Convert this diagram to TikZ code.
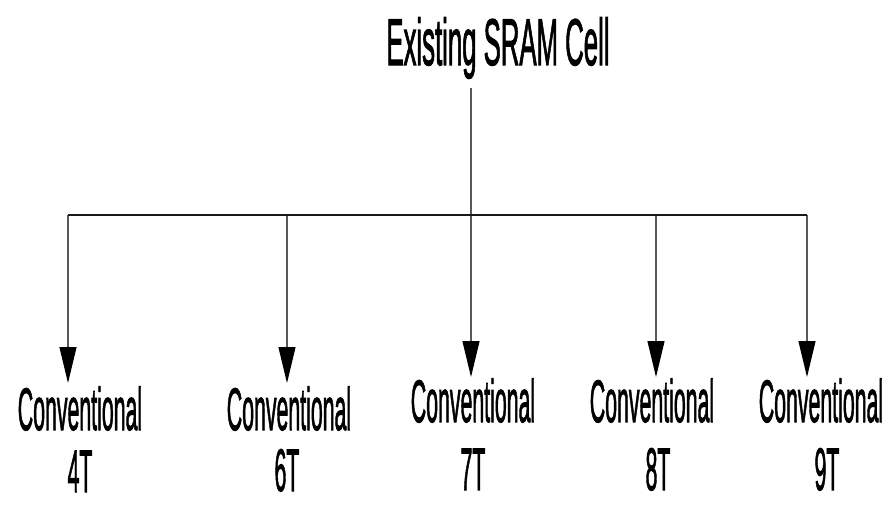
\documentclass[tikz,border=0pt]{standalone}
\usepackage{fontspec}
\setmainfont{Liberation Sans}
\newfontfamily\heavysans[FakeBold=2]{Liberation Sans}
\usetikzlibrary{arrows.meta}
\tikzset{
  lbl/.style={anchor=base, inner sep=0pt, font=\heavysans\fontsize{60}{60}\selectfont},
  ttl/.style={anchor=base, inner sep=0pt, font=\heavysans\fontsize{66}{66}\selectfont},
  bus/.style={line width=2pt, black!90},
  drop/.style={line width=1.1pt, black!65, -{Triangle[width=17pt, length=36pt, black]}},
  stem/.style={line width=1.1pt, black!65}
}
\newcommand{\narrowtext}[2]{\scalebox{#1}[1]{#2}}
\begin{document}
\begin{tikzpicture}[x=1pt, y=-1pt]
  \useasboundingbox (0,0) rectangle (896,504);
  % root label
  \node[ttl] (root) at (498,65) {\narrowtext{0.39}{Existing SRAM Cell}};
  % leaf labels
  \node[lbl] (c4) at (80,430) {\narrowtext{0.355}{Conventional}};
  \node[lbl] (c6) at (289,430) {\narrowtext{0.355}{Conventional}};
  \node[lbl] (c7) at (473,422) {\narrowtext{0.355}{Conventional}};
  \node[lbl] (c8) at (652,422) {\narrowtext{0.355}{Conventional}};
  \node[lbl] (c9) at (821,422) {\narrowtext{0.355}{Conventional}};
  \node[lbl] (n4) at (80,492) {\narrowtext{0.355}{4T}};
  \node[lbl] (n6) at (287,491) {\narrowtext{0.355}{6T}};
  \node[lbl] (n7) at (473,490) {\narrowtext{0.355}{7T}};
  \node[lbl] (n8) at (658,490) {\narrowtext{0.355}{8T}};
  \node[lbl] (n9) at (827,490) {\narrowtext{0.355}{9T}};
  % junctions on the bus and arrow tips
  \coordinate (top) at (471,88);
  \coordinate (j4) at (68,215);
  \coordinate (j6) at (287,215);
  \coordinate (j7) at (471,215);
  \coordinate (j8) at (656,215);
  \coordinate (j9) at (807,215);
  \coordinate (t4) at (68,383);
  \coordinate (t6) at (287,383);
  \coordinate (t7) at (471,377);
  \coordinate (t8) at (656,377);
  \coordinate (t9) at (807,377);
  % connectors
  \draw[stem] (top) -- (j7);
  \draw[drop] (j4) -- (t4);
  \draw[drop] (j6) -- (t6);
  \draw[drop] (j7) -- (t7);
  \draw[drop] (j8) -- (t8);
  \draw[drop] (j9) -- (t9);
  \draw[bus] (j4) -- (j9);
\end{tikzpicture}
\end{document}
